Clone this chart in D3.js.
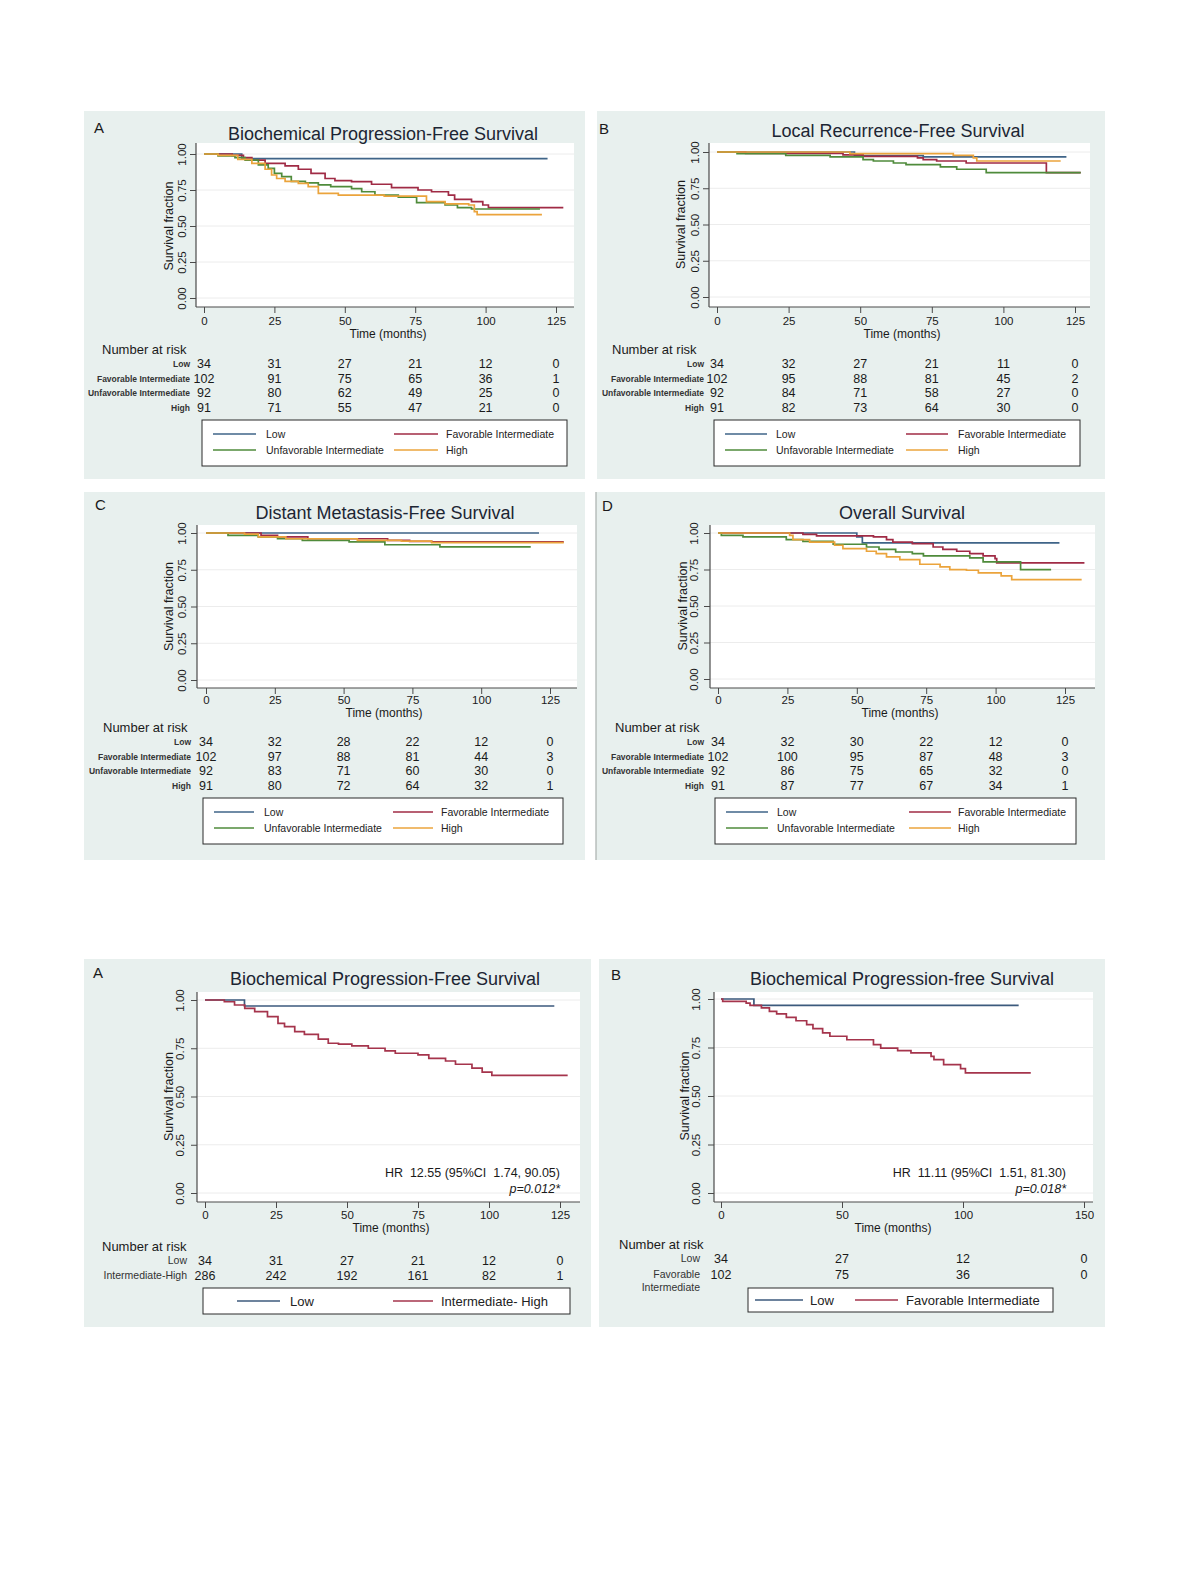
<!DOCTYPE html>
<html>
<head>
<meta charset="utf-8">
<script src="https://cdn.jsdelivr.net/npm/d3@7"></script>
<style>
  body { margin: 0; background: #fff; }
  svg text { font-family: "Liberation Sans", Arial, sans-serif; fill: #1a1a1a; }
</style>
</head>
<body>
<svg id="fig" width="1191" height="1587"></svg>
<script>
// ---- data ----
const yTicks = [0, 0.25, 0.5, 0.75, 1];
const xTicks125 = [0, 25, 50, 75, 100, 125];
const xTicks150 = [0, 50, 100, 150];

const groups4 = ["Low", "Favorable Intermediate", "Unfavorable Intermediate", "High"];
const groupsLH = ["Low", "Intermediate-High"];
const groupsLF = [["Low"], ["Favorable", "Intermediate"]];
const legendLH = ["Low", "Intermediate- High"];
const legendLF = ["Low", "Favorable Intermediate"];

// survival steps: [months, survival fraction]
const bpfsLow = [[0, 1], [13.4, 0.968], [122, 0.968]];
const bpfsFav = [[0, 1], [10, 0.99], [14, 0.975], [17, 0.958], [21.7, 0.935], [28.8, 0.917], [33.5, 0.894], [38, 0.866], [43, 0.83], [46.5, 0.815], [52.4, 0.808], [59.5, 0.79], [66.6, 0.766], [76, 0.75], [80.8, 0.738], [86.8, 0.715], [89, 0.685], [95, 0.669], [99, 0.646], [101, 0.627], [127.6, 0.627]];
const bpfsUnfav = [[0, 1], [5, 0.986], [11, 0.975], [14.6, 0.958], [19.3, 0.924], [22.8, 0.9], [25, 0.866], [27.6, 0.843], [31, 0.81], [36, 0.8], [40.6, 0.785], [45, 0.773], [52.4, 0.76], [56, 0.738], [60.7, 0.715], [69, 0.7], [75.5, 0.662], [85.6, 0.646], [90, 0.627], [95, 0.618], [119.3, 0.618]];
const bpfsHigh = [[0, 1], [5, 0.99], [12, 0.963], [17, 0.935], [21.7, 0.894], [24, 0.854], [25.8, 0.83], [28.8, 0.81], [33.5, 0.796], [37, 0.773], [40.6, 0.727], [47.7, 0.715], [64, 0.708], [79, 0.669], [85.6, 0.653], [94, 0.646], [96, 0.6], [97, 0.579], [120, 0.579]];

const lrfsLow = [[0, 1], [48, 0.975], [72, 0.966], [122, 0.966]];
const lrfsFav = [[0, 1], [10, 0.99], [44, 0.98], [51, 0.97], [70, 0.96], [72, 0.947], [76.7, 0.938], [87, 0.924], [115, 0.858], [127, 0.858]];
const lrfsUnfav = [[0, 1], [7, 0.989], [24, 0.977], [39.5, 0.966], [51, 0.947], [54.6, 0.938], [61.6, 0.924], [66, 0.913], [78, 0.897], [83.7, 0.881], [94, 0.858], [127, 0.858]];
const lrfsHigh = [[0, 1], [46.4, 0.989], [82.5, 0.977], [89.5, 0.96], [90.7, 0.938], [120, 0.938]];

const dmfsLow = [[0, 1], [121, 1]];
const dmfsFav = [[0, 1], [20, 0.984], [26, 0.973], [37, 0.961], [66, 0.95], [74, 0.943], [82, 0.939], [130, 0.939]];
const dmfsUnfav = [[0, 1], [8, 0.984], [19, 0.973], [26, 0.961], [35, 0.95], [52, 0.939], [65, 0.92], [85, 0.905], [118, 0.905]];
const dmfsHigh = [[0, 1], [14, 0.993], [19, 0.973], [29, 0.961], [55, 0.95], [71, 0.945], [82, 0.934], [130, 0.934]];

const osLow = [[0, 1], [50, 0.973], [52, 0.932], [123, 0.932]];
const osFav = [[0, 1], [30.6, 0.991], [35.5, 0.98], [56, 0.973], [60.7, 0.954], [63, 0.938], [70, 0.927], [77.5, 0.904], [81, 0.888], [86, 0.875], [90.7, 0.859], [95.5, 0.843], [99.8, 0.825], [100.4, 0.795], [132, 0.795]];
const osUnfav = [[0, 1], [1.2, 0.984], [9, 0.973], [24.6, 0.954], [30.6, 0.943], [41.5, 0.923], [53.5, 0.904], [58, 0.888], [64, 0.87], [70, 0.859], [74, 0.843], [90.7, 0.829], [95.5, 0.802], [109, 0.749], [120, 0.749]];
const osHigh = [[0, 1], [25.8, 0.984], [27, 0.954], [33, 0.938], [42, 0.916], [45, 0.893], [53.5, 0.875], [57, 0.859], [60.7, 0.836], [65.5, 0.818], [72.7, 0.786], [80, 0.768], [83.5, 0.749], [89.5, 0.745], [93.8, 0.727], [102, 0.706], [105.8, 0.681], [131, 0.681]];

const bpfs2Low = [[0, 1], [13.9, 0.969], [123, 0.969]];
const bpfs2IntHigh = [[0, 1], [6.8, 0.991], [10.4, 0.974], [14, 0.957], [17.5, 0.94], [22, 0.914], [25.7, 0.879], [28, 0.862], [31.6, 0.836], [35, 0.822], [39.9, 0.797], [43.4, 0.776], [47, 0.771], [51.7, 0.762], [57.5, 0.75], [63.4, 0.736], [67, 0.724], [75, 0.716], [78.8, 0.698], [84.7, 0.684], [88.2, 0.667], [94, 0.647], [97.6, 0.626], [101, 0.609], [127.7, 0.609]];
const bpfs3Low = [[0, 1], [13.6, 0.967], [123, 0.967]];
const bpfs3Fav = [[0, 1], [0.7, 0.988], [10.4, 0.979], [12, 0.967], [16.7, 0.954], [20, 0.936], [23, 0.923], [27, 0.905], [31, 0.888], [35.4, 0.868], [38, 0.847], [42, 0.825], [45, 0.808], [52, 0.79], [63, 0.765], [66, 0.747], [73, 0.734], [78.5, 0.722], [86.8, 0.704], [88, 0.687], [92, 0.662], [99, 0.641], [101, 0.619], [128, 0.619]];

// number at risk
const riskBpfs = [[34, 31, 27, 21, 12, 0], [102, 91, 75, 65, 36, 1], [92, 80, 62, 49, 25, 0], [91, 71, 55, 47, 21, 0]];
const riskLrfs = [[34, 32, 27, 21, 11, 0], [102, 95, 88, 81, 45, 2], [92, 84, 71, 58, 27, 0], [91, 82, 73, 64, 30, 0]];
const riskDmfs = [[34, 32, 28, 22, 12, 0], [102, 97, 88, 81, 44, 3], [92, 83, 71, 60, 30, 0], [91, 80, 72, 64, 32, 1]];
const riskOs = [[34, 32, 30, 22, 12, 0], [102, 100, 95, 87, 48, 3], [92, 86, 75, 65, 32, 0], [91, 87, 77, 67, 34, 1]];
const riskBpfs2 = [[34, 31, 27, 21, 12, 0], [286, 242, 192, 161, 82, 1]];
const riskBpfs3 = [[34, 27, 12, 0], [102, 75, 36, 0]];

const hrBpfs2 = ["HR  12.55 (95%CI  1.74, 90.05)", "p=0.012*"];
const hrBpfs3 = ["HR  11.11 (95%CI  1.51, 81.30)", "p=0.018*"];

// ---- styles ----
const BG = "#e8f0ee";
const C4 = ["#3f6488", "#a02b45", "#4f8b3b", "#eba43c"];
const C2 = ["#3c5a7d", "#a5344c"];
const AXIS = "#4a4a4a";

const svg = d3.select("#fig");

function kmPanel(p) {
  const g = svg.append("g");
  g.append("rect")
    .attr("x", p.box[0]).attr("y", p.box[1])
    .attr("width", p.box[2] - p.box[0]).attr("height", p.box[3] - p.box[1])
    .attr("fill", BG);
  if (p.leftRule) {
    g.append("line").attr("x1", p.box[0]).attr("x2", p.box[0])
      .attr("y1", p.box[1]).attr("y2", p.box[3])
      .attr("stroke", "#a9b0ae").attr("stroke-width", 1.2);
  }

  const xMax = p.xTicks[p.xTicks.length - 1];
  const x = d3.scaleLinear().domain([0, xMax]).range([p.x0, p.xEnd]);
  const y = d3.scaleLinear().domain([0, 1]).range([p.y0, p.y1]);
  const [pl, pt, pr, pb] = p.plot;

  g.append("rect").attr("x", pl).attr("y", pt)
    .attr("width", pr - pl).attr("height", pb - pt).attr("fill", "#fff");

  g.selectAll("line.grid").data(yTicks).enter().append("line")
    .attr("class", "grid")
    .attr("x1", pl).attr("x2", pr)
    .attr("y1", d => y(d)).attr("y2", d => y(d))
    .attr("stroke", "#ececec").attr("stroke-width", 1);

  // y axis
  const ya = g.append("g").attr("transform", `translate(${pl},0)`)
    .call(d3.axisLeft(y).tickValues(yTicks).tickSize(6).tickFormat(d3.format(".2f")));
  ya.select(".domain").remove();
  ya.selectAll(".tick line").attr("stroke", AXIS);
  ya.selectAll(".tick text")
    .attr("transform", "rotate(-90)")
    .attr("x", 0).attr("y", -(pl - p.yTickC - 4)).attr("dy", 0)
    .style("text-anchor", "middle")
    .style("font-size", "11.5px")
    .style("font-family", "'Liberation Sans', Arial, sans-serif")
    .attr("fill", "#222");
  g.append("line").attr("x1", pl).attr("x2", pl).attr("y1", pt).attr("y2", pb)
    .attr("stroke", AXIS).attr("stroke-width", 1.2);
  g.append("text")
    .attr("transform", `translate(${p.yTitleX + 4.5},${(y(0) + y(1)) / 2}) rotate(-90)`)
    .attr("text-anchor", "middle")
    .style("font-size", "12.5px")
    .text("Survival fraction");

  // x axis
  const xa = g.append("g").attr("transform", `translate(0,${pb})`)
    .call(d3.axisBottom(x).tickValues(p.xTicks).tickSize(6));
  xa.select(".domain").remove();
  xa.selectAll(".tick line").attr("stroke", AXIS);
  xa.selectAll(".tick text")
    .attr("y", p.xTickC - pb + 3.5).attr("dy", 0)
    .style("font-size", "11.5px")
    .style("font-family", "'Liberation Sans', Arial, sans-serif")
    .attr("fill", "#222");
  g.append("line").attr("x1", pl).attr("x2", pr).attr("y1", pb).attr("y2", pb)
    .attr("stroke", AXIS).attr("stroke-width", 1.2);
  g.append("text")
    .attr("x", p.xTitleX).attr("y", p.xTickC + 17)
    .attr("text-anchor", "middle")
    .style("font-size", "12px")
    .text("Time (months)");

  // title and letter
  g.append("text").attr("x", p.titleX).attr("y", p.titleY)
    .attr("text-anchor", "middle")
    .style("font-size", "18px").style("fill", "#1c2533")
    .text(p.title);
  g.append("text").attr("x", p.letter[1]).attr("y", p.letter[2])
    .style("font-size", "15px")
    .text(p.letter[0]);

  // curves
  const line = d3.line()
    .x(d => x(d[0]))
    .y(d => y(d[1]))
    .curve(d3.curveStepAfter);
  p.series.forEach((s, i) => {
    g.append("path").datum(s)
      .attr("d", line)
      .attr("fill", "none")
      .attr("stroke", p.colors[i])
      .attr("stroke-width", 1.7);
  });

  // annotation
  if (p.hr) {
    g.append("text").attr("x", p.hr.x).attr("y", p.hr.y)
      .attr("text-anchor", "end").style("font-size", "12.5px")
      .attr("xml:space", "preserve")
      .text(p.hr.text[0]);
    g.append("text").attr("x", p.hr.x).attr("y", p.hr.y + 16)
      .attr("text-anchor", "end").style("font-size", "12.5px")
      .style("font-style", "italic")
      .text(p.hr.text[1]);
  }

  // number at risk
  g.append("text").attr("x", p.riskTitle[0]).attr("y", p.riskTitle[1] + 4.5)
    .style("font-size", "13px").text("Number at risk");
  p.risk.forEach((vals, i) => {
    const ry = p.riskRows[i];
    const lab = Array.isArray(p.riskLabels[i]) ? p.riskLabels[i] : [p.riskLabels[i]];
    lab.forEach((t, k) => {
      g.append("text").attr("x", p.riskLabelX).attr("y", ry + 3.5 + k * 13.5)
        .attr("text-anchor", "end")
        .style("font-size", p.riskLabelSize)
        .style("font-weight", p.riskLabelWeight)
        .style("fill", "#333")
        .text(t);
    });
    g.selectAll(null).data(vals).enter().append("text")
      .attr("x", (d, j) => x(p.xTicks[j]))
      .attr("y", ry + 4.5)
      .attr("text-anchor", "middle")
      .style("font-size", "12.5px")
      .text(d => d);
  });

  // legend
  const L = p.legend;
  g.append("rect").attr("x", L.box[0]).attr("y", L.box[1])
    .attr("width", L.box[2] - L.box[0]).attr("height", L.box[3] - L.box[1])
    .attr("fill", "#fff").attr("stroke", "#2a2a2a").attr("stroke-width", 1);
  L.items.forEach((name, i) => {
    const col = i % L.cols.length;
    const row = Math.floor(i / L.cols.length);
    const c = L.cols[col];
    const ly = L.rows[row];
    g.append("line").attr("x1", c[0]).attr("x2", c[1]).attr("y1", ly).attr("y2", ly)
      .attr("stroke", p.colors[i]).attr("stroke-width", 1.6);
    g.append("text").attr("x", c[2]).attr("y", ly + L.size * 0.36)
      .style("font-size", L.size + "px")
      .style("fill", "#222")
      .text(name);
  });
}

const smallLab = { riskLabelSize: "8.5px", riskLabelWeight: 600 };

const panels = [
  Object.assign({
    title: "Biochemical Progression-Free Survival", letter: ["A", 94, 133],
    box: [84, 111, 585, 479], plot: [196, 143, 574, 307],
    x0: 204, xEnd: 556, y1: 154, y0: 298, xTicks: xTicks125,
    yTickC: 182, yTitleX: 168, xTickC: 321, xTitleX: 388,
    titleX: 383, titleY: 140,
    series: [bpfsLow, bpfsFav, bpfsUnfav, bpfsHigh], colors: C4,
    risk: riskBpfs, riskLabels: groups4, riskLabelX: 190,
    riskTitle: [102, 349], riskRows: [363, 378, 392, 407],
    legend: { box: [202, 420, 567, 466], rows: [434, 450], cols: [[213, 256, 266], [394, 438, 446]], items: groups4, size: 10.5 }
  }, smallLab),
  Object.assign({
    title: "Local Recurrence-Free Survival", letter: ["B", 599, 134],
    box: [597, 111, 1105, 479], plot: [709, 143, 1090, 307],
    x0: 717, xEnd: 1075, y1: 152, y0: 297, xTicks: xTicks125,
    yTickC: 695, yTitleX: 680, xTickC: 321, xTitleX: 902,
    titleX: 898, titleY: 137,
    series: [lrfsLow, lrfsFav, lrfsUnfav, lrfsHigh], colors: C4,
    risk: riskLrfs, riskLabels: groups4, riskLabelX: 704,
    riskTitle: [612, 349], riskRows: [363, 378, 392, 407],
    legend: { box: [714, 420, 1080, 466], rows: [434, 450], cols: [[725, 767, 776], [906, 948, 958]], items: groups4, size: 10.5 }
  }, smallLab),
  Object.assign({
    title: "Distant Metastasis-Free Survival", letter: ["C", 95, 510],
    box: [84, 492, 585, 860], plot: [197, 525, 577, 688],
    x0: 206, xEnd: 550, y1: 533, y0: 680, xTicks: xTicks125,
    yTickC: 182, yTitleX: 168, xTickC: 700, xTitleX: 384,
    titleX: 385, titleY: 519,
    series: [dmfsLow, dmfsFav, dmfsUnfav, dmfsHigh], colors: C4,
    risk: riskDmfs, riskLabels: groups4, riskLabelX: 191,
    riskTitle: [103, 727], riskRows: [741, 756, 770, 785],
    legend: { box: [203, 798, 563, 844], rows: [812, 828], cols: [[214, 254, 264], [393, 433, 441]], items: groups4, size: 10.5 }
  }, smallLab),
  Object.assign({
    title: "Overall Survival", letter: ["D", 602, 511], leftRule: true,
    box: [596, 492, 1105, 860], plot: [710, 525, 1095, 688],
    x0: 718, xEnd: 1065, y1: 533, y0: 679, xTicks: xTicks125,
    yTickC: 694, yTitleX: 682, xTickC: 700, xTitleX: 900,
    titleX: 902, titleY: 519,
    series: [osLow, osFav, osUnfav, osHigh], colors: C4,
    risk: riskOs, riskLabels: groups4, riskLabelX: 704,
    riskTitle: [615, 727], riskRows: [741, 756, 770, 785],
    legend: { box: [715, 798, 1076, 844], rows: [812, 828], cols: [[726, 768, 777], [909, 951, 958]], items: groups4, size: 10.5 }
  }, smallLab),
  {
    title: "Biochemical Progression-Free Survival", letter: ["A", 93, 978],
    box: [84, 959, 591, 1327], plot: [197, 992, 580, 1202],
    x0: 205, xEnd: 560, y1: 1000, y0: 1193, xTicks: xTicks125,
    yTickC: 180, yTitleX: 168, xTickC: 1215, xTitleX: 391,
    titleX: 385, titleY: 985,
    series: [bpfs2Low, bpfs2IntHigh], colors: C2,
    hr: { x: 560, y: 1177, text: hrBpfs2 },
    risk: riskBpfs2, riskLabels: groupsLH, riskLabelX: 187,
    riskLabelSize: "10.5px", riskLabelWeight: 400,
    riskTitle: [102, 1246], riskRows: [1260, 1275],
    legend: { box: [203, 1288, 570, 1314], rows: [1301], cols: [[237, 280, 290], [393, 433, 441]], items: legendLH, size: 13 }
  },
  {
    title: "Biochemical Progression-free Survival", letter: ["B", 611, 980],
    box: [599, 959, 1105, 1327], plot: [714, 992, 1093, 1202],
    x0: 721, xEnd: 1084, y1: 999, y0: 1193, xTicks: xTicks150,
    yTickC: 696, yTitleX: 684, xTickC: 1215, xTitleX: 893,
    titleX: 902, titleY: 985,
    series: [bpfs3Low, bpfs3Fav], colors: C2,
    hr: { x: 1066, y: 1177, text: hrBpfs3 },
    risk: riskBpfs3, riskLabels: groupsLF, riskLabelX: 700,
    riskLabelSize: "10.5px", riskLabelWeight: 400,
    riskTitle: [619, 1244], riskRows: [1258, 1274],
    legend: { box: [748, 1288, 1053, 1312], rows: [1300], cols: [[755, 803, 810], [855, 898, 906]], items: legendLF, size: 13 }
  }
];

panels.forEach(kmPanel);
</script>
</body>
</html>
